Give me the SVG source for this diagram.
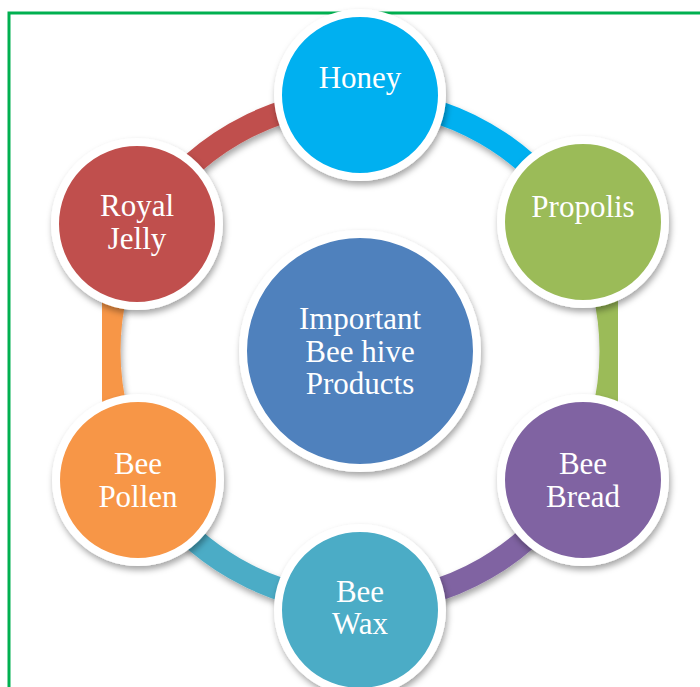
<svg xmlns="http://www.w3.org/2000/svg" width="700" height="687" viewBox="0 0 700 687">
<defs>
<filter id="sh" x="-20%" y="-20%" width="140%" height="140%">
<feDropShadow dx="1.5" dy="4" stdDeviation="3" flood-color="#000" flood-opacity="0.35"/>
</filter>
<style>
.frame{stroke:#00B050;stroke-width:3;fill:none}
.arc{fill:none;stroke-width:23;filter:url(#sh)}
.node{stroke:#FFFFFF;stroke-width:8;filter:url(#sh)}
.lbl{font-family:"Liberation Serif","Times New Roman",serif;font-size:31px;fill:#FFFFFF;text-anchor:middle}
</style>
</defs>
<rect width="700" height="687" fill="#FFFFFF"/>
<g id="frame">
<path class="frame" d="M9 687 V13 H700"/>
</g>
<g id="connectors">
<path class="arc" stroke="#00B0F0" d="M360 100 A251 251 0 0 1 577.37 225.5"/>
<path class="arc" stroke="#9BBB59" d="M577.37 225.5 A251 251 0 0 1 577.37 476.5"/>
<path class="arc" stroke="#8064A2" d="M577.37 476.5 A251 251 0 0 1 360 602"/>
<path class="arc" stroke="#4BACC6" d="M360 602 A251 251 0 0 1 142.63 476.5"/>
<path class="arc" stroke="#F79646" d="M142.63 476.5 A251 251 0 0 1 142.63 225.5"/>
<path class="arc" stroke="#C0504D" d="M142.63 225.5 A251 251 0 0 1 360 100"/>
</g>
<g id="center">
<circle class="node" cx="360" cy="351" r="117" fill="#4F81BD"/>
<text class="lbl" x="360" y="329">Important</text>
<text class="lbl" x="360" y="362">Bee hive</text>
<text class="lbl" x="360" y="394">Products</text>
</g>
<g id="honey">
<circle class="node" cx="360" cy="95" r="82" fill="#00B0F0"/>
<text class="lbl" x="360" y="88">Honey</text>
</g>
<g id="propolis">
<circle class="node" cx="583" cy="222" r="82" fill="#9BBB59"/>
<text class="lbl" x="583" y="217">Propolis</text>
</g>
<g id="bee-bread">
<circle class="node" cx="583" cy="480" r="82" fill="#8064A2"/>
<text class="lbl" x="583" y="474">Bee</text>
<text class="lbl" x="583" y="507">Bread</text>
</g>
<g id="bee-wax">
<circle class="node" cx="360" cy="610" r="82" fill="#4BACC6"/>
<text class="lbl" x="360" y="602">Bee</text>
<text class="lbl" x="360" y="634">Wax</text>
</g>
<g id="bee-pollen">
<circle class="node" cx="138" cy="480" r="82" fill="#F79646"/>
<text class="lbl" x="138" y="474">Bee</text>
<text class="lbl" x="138" y="507">Pollen</text>
</g>
<g id="royal-jelly">
<circle class="node" cx="137" cy="224" r="82" fill="#C0504D"/>
<text class="lbl" x="137" y="216">Royal</text>
<text class="lbl" x="137" y="249">Jelly</text>
</g>
</svg>
